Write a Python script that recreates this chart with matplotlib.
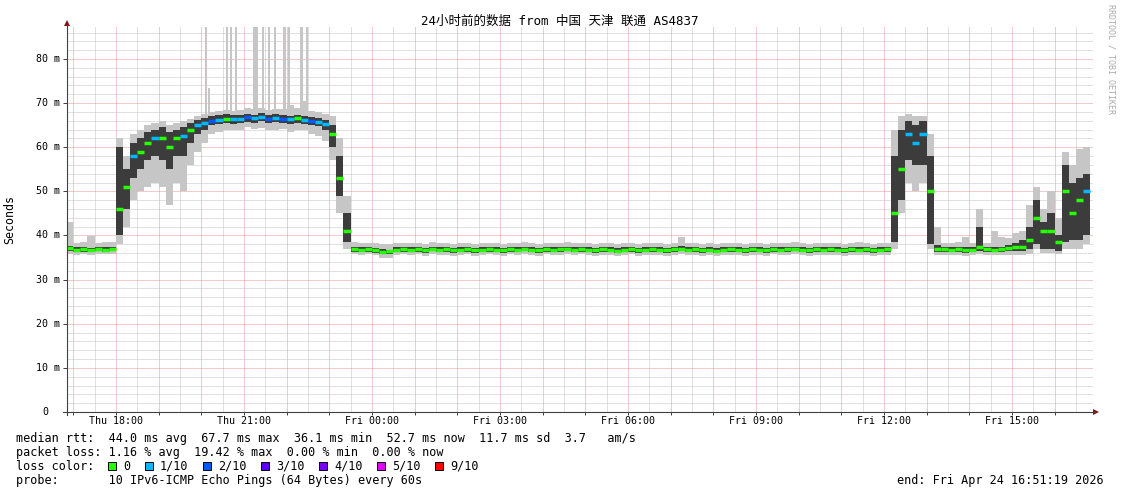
import matplotlib
matplotlib.use("Agg")
import matplotlib.pyplot as plt
import matplotlib.transforms as mtransforms
from matplotlib.lines import Line2D
from matplotlib.patches import Polygon, Rectangle
import numpy as np

W, H = 1121, 494

# ---- data: 10 minute steps, first step starts Thu 16:50 (hours since Thu 00:00)
t_first = 16 + 50 / 60.0
t_step = 1 / 6.0

median = [
    37.2, 36.8, 36.9, 36.7, 36.9, 36.8, 37.0, 46.0, 51.0, 58.0, 59.0, 61.0,
    62.0, 62.0, 60.0, 62.0, 62.5, 64.0, 65.0, 65.5, 66.0, 66.2, 66.5, 66.3,
    66.5, 66.8, 66.6, 66.9, 66.4, 66.7, 66.5, 66.3, 66.6, 66.2, 66.0, 65.8,
    65.3, 63.0, 53.0, 41.0, 37.0, 36.8, 36.9, 36.7, 36.3, 36.4, 36.8, 36.9,
    36.8, 36.9, 36.7, 37.0, 36.8, 36.9, 36.7, 36.8, 36.9, 36.7, 36.8, 36.9,
    36.8, 36.7, 36.9, 36.8, 37.0, 36.8, 36.7, 36.9, 36.8, 36.9, 37.0, 36.8,
    36.9, 36.8, 36.7, 36.9, 36.8, 36.6, 36.8, 36.9, 36.7, 36.8, 36.9, 36.8,
    36.7, 36.9, 37.0, 36.8, 36.9, 36.7, 36.8, 36.6, 36.8, 36.9, 36.8, 36.7,
    36.9, 36.8, 36.7, 36.9, 36.8, 36.9, 37.0, 36.8, 36.7, 36.9, 36.8, 36.9,
    36.8, 36.7, 36.9, 36.8, 36.9, 36.7, 36.8, 36.9, 45.0, 55.0, 63.0, 61.0,
    63.0, 50.0, 37.0, 36.9, 36.8, 36.9, 36.7, 36.8, 37.5, 36.9, 36.8, 36.9,
    37.2, 37.3, 37.5, 39.0, 44.0, 41.0, 41.0, 38.5, 50.0, 45.0, 48.0, 50.0,
]
smoke_min = [
    35.8, 35.6, 35.7, 35.6, 35.8, 35.7, 35.9, 38.0, 42.0, 48.0, 50.0, 51.0,
    52.0, 51.0, 47.0, 52.0, 50.0, 56.0, 59.0, 61.0, 63.0, 63.5, 64.0, 63.8,
    64.0, 64.5, 64.2, 64.3, 63.8, 64.0, 64.2, 63.5, 64.0, 63.8, 63.0, 62.5,
    61.5, 57.0, 45.0, 37.0, 35.8, 35.6, 35.7, 35.5, 34.8, 34.9, 35.6, 35.7,
    35.6, 35.7, 35.3, 35.8, 35.6, 35.5, 35.4, 35.6, 35.7, 35.4, 35.6, 35.7,
    35.5, 35.4, 35.7, 35.6, 35.8, 35.5, 35.4, 35.7, 35.5, 35.6, 35.8, 35.5,
    35.7, 35.5, 35.4, 35.6, 35.5, 35.3, 35.5, 35.7, 35.4, 35.5, 35.6, 35.5,
    35.4, 35.6, 35.7, 35.5, 35.6, 35.4, 35.5, 35.3, 35.5, 35.6, 35.5, 35.4,
    35.6, 35.5, 35.4, 35.7, 35.5, 35.6, 35.7, 35.5, 35.4, 35.6, 35.5, 35.6,
    35.5, 35.4, 35.6, 35.5, 35.6, 35.4, 35.5, 35.6, 37.0, 45.0, 52.0, 50.0,
    52.0, 37.0, 35.5, 35.6, 35.5, 35.6, 35.4, 35.5, 35.7, 35.6, 35.5, 35.6,
    35.6, 35.5, 35.6, 35.8, 37.0, 36.0, 36.0, 35.8, 37.0, 37.0, 37.0, 38.0,
]
smoke_max = [
    43.0, 38.3, 38.5, 39.8, 38.4, 38.6, 38.5, 62.0, 58.0, 63.0, 64.0, 65.0,
    65.5, 66.0, 65.0, 65.5, 66.0, 66.5, 67.0, 67.5, 68.0, 68.2, 68.5, 68.3,
    68.5, 68.8, 68.6, 69.0, 68.4, 68.7, 68.6, 69.5, 69.0, 70.5, 68.3, 68.0,
    67.5, 67.0, 62.0, 49.0, 38.5, 38.3, 38.4, 38.2, 38.0, 38.0, 38.3, 38.4,
    38.2, 38.4, 38.1, 38.6, 38.3, 38.2, 38.0, 38.3, 38.4, 38.1, 38.3, 38.2,
    38.3, 38.1, 38.4, 38.2, 38.5, 38.3, 38.1, 38.4, 38.2, 38.3, 38.5, 38.2,
    38.4, 38.2, 38.1, 38.3, 38.2, 38.0, 38.3, 38.4, 38.1, 38.2, 38.4, 38.2,
    38.1, 38.3, 39.6, 38.2, 38.4, 38.1, 38.2, 38.0, 38.3, 38.4, 38.2, 38.1,
    38.3, 38.2, 38.1, 38.4, 38.2, 38.3, 38.5, 38.2, 38.1, 38.4, 38.2, 38.3,
    38.2, 38.1, 38.3, 38.6, 38.3, 38.1, 38.2, 38.4, 64.0, 67.0, 67.5, 67.0,
    67.0, 63.0, 42.0, 38.4, 38.3, 38.5, 39.7, 38.3, 46.0, 38.4, 41.0, 39.7,
    39.4, 40.6, 41.0, 47.0, 51.0, 46.0, 50.0, 44.0, 59.0, 56.0, 59.5, 60.0,
]
# darker inner part of the smoke (middle pings)
inner_low = [
    36.4, 36.3, 36.3, 36.2, 36.4, 36.3, 36.5, 40.0, 46.0, 53.0, 55.0, 57.0,
    58.0, 57.0, 55.0, 58.0, 58.0, 61.0, 63.0, 64.0, 65.0, 65.3, 65.5, 65.3,
    65.5, 65.8, 65.6, 65.9, 65.4, 65.7, 65.5, 65.3, 65.6, 65.2, 65.0, 64.8,
    64.0, 60.0, 49.0, 38.5, 36.3, 36.2, 36.3, 36.1, 35.8, 35.7, 36.2, 36.3,
    36.2, 36.3, 36.1, 36.4, 36.2, 36.3, 36.1, 36.2, 36.3, 36.1, 36.2, 36.3,
    36.2, 36.1, 36.3, 36.2, 36.4, 36.2, 36.1, 36.3, 36.2, 36.3, 36.4, 36.2,
    36.3, 36.2, 36.1, 36.3, 36.2, 36.0, 36.2, 36.3, 36.1, 36.2, 36.3, 36.2,
    36.1, 36.3, 36.4, 36.2, 36.3, 36.1, 36.2, 36.0, 36.2, 36.3, 36.2, 36.1,
    36.3, 36.2, 36.1, 36.3, 36.2, 36.3, 36.4, 36.2, 36.1, 36.3, 36.2, 36.3,
    36.2, 36.1, 36.3, 36.2, 36.3, 36.1, 36.2, 36.3, 38.5, 48.0, 57.0, 56.0,
    56.0, 38.0, 36.3, 36.3, 36.2, 36.3, 36.1, 36.2, 36.5, 36.3, 36.2, 36.3,
    36.4, 36.5, 36.6, 37.0, 38.0, 37.0, 37.0, 36.6, 38.5, 39.0, 39.0, 40.0,
]
inner_high = [
    37.6, 37.3, 37.4, 37.2, 37.4, 37.3, 37.5, 60.0, 55.0, 61.0, 62.0, 63.5,
    64.0, 64.5, 63.5, 64.0, 64.5, 65.5, 66.2, 66.7, 67.0, 67.2, 67.5, 67.3,
    67.3, 67.6, 67.4, 67.7, 67.2, 67.5, 67.3, 67.1, 67.4, 67.0, 66.8, 66.6,
    66.2, 65.0, 58.0, 45.0, 37.5, 37.3, 37.4, 37.2, 36.9, 36.8, 37.3, 37.4,
    37.3, 37.4, 37.2, 37.5, 37.3, 37.4, 37.2, 37.3, 37.4, 37.2, 37.3, 37.4,
    37.3, 37.2, 37.4, 37.3, 37.5, 37.3, 37.2, 37.4, 37.3, 37.4, 37.5, 37.3,
    37.4, 37.3, 37.2, 37.4, 37.3, 37.1, 37.3, 37.4, 37.2, 37.3, 37.4, 37.3,
    37.2, 37.4, 37.6, 37.3, 37.4, 37.2, 37.3, 37.1, 37.3, 37.4, 37.3, 37.2,
    37.4, 37.3, 37.2, 37.4, 37.3, 37.4, 37.5, 37.3, 37.2, 37.4, 37.3, 37.4,
    37.3, 37.2, 37.4, 37.3, 37.4, 37.2, 37.3, 37.4, 58.0, 64.0, 66.0, 65.0,
    66.0, 58.0, 37.8, 37.4, 37.3, 37.4, 37.3, 37.3, 42.0, 37.4, 37.4, 37.5,
    37.8, 38.2, 39.0, 42.0, 48.0, 43.0, 45.0, 40.0, 56.0, 52.0, 53.0, 54.0,
]
# lost pings (of 10) per step
loss = [
    0, 0, 0, 0, 0, 0, 0, 0, 0, 1, 0, 0,
    1, 0, 0, 0, 1, 0, 1, 1, 2, 1, 0, 1,
    1, 2, 1, 1, 2, 1, 2, 1, 0, 1, 2, 1,
    1, 0, 0, 0, 0, 0, 0, 0, 0, 0, 0, 0,
    0, 0, 0, 0, 0, 0, 0, 0, 0, 0, 0, 0,
    0, 0, 0, 0, 0, 0, 0, 0, 0, 0, 0, 0,
    0, 0, 0, 0, 0, 0, 0, 0, 0, 0, 0, 0,
    0, 0, 0, 0, 0, 0, 0, 0, 0, 0, 0, 0,
    0, 0, 0, 0, 0, 0, 0, 0, 0, 0, 0, 0,
    0, 0, 0, 0, 0, 0, 0, 0, 0, 0, 1, 1,
    1, 0, 0, 0, 0, 0, 0, 0, 0, 0, 0, 0,
    0, 0, 0, 0, 0, 0, 0, 0, 0, 0, 0, 1,
]

# single slow pings during the plateau (hour, width in hours, top in ms)
spike_time = [20.113, 20.183, 20.605, 20.699, 20.816, 21.273, 21.448,
              21.589, 21.730, 21.952, 22.058, 22.362, 22.480]
spike_width = [0.03, 0.03, 0.03, 0.03, 0.03, 0.11, 0.03,
               0.03, 0.03, 0.07, 0.03, 0.07, 0.03]
spike_top = [87.5, 73.4, 87.5, 87.5, 87.5, 87.5, 87.5,
             87.5, 87.5, 87.5, 87.5, 87.5, 87.5]

loss_labels = ["0", "1/10", "2/10", "3/10", "4/10", "5/10", "9/10"]
loss_colors = ["#26ff00", "#00b8ff", "#0059ff", "#5e00ff", "#7e00ff", "#dd00ff", "#ff0000"]

x_ticks = [18, 21, 24, 27, 30, 33, 36, 39]
x_labels = ["Thu 18:00", "Thu 21:00", "Fri 00:00", "Fri 03:00",
            "Fri 06:00", "Fri 09:00", "Fri 12:00", "Fri 15:00"]
y_ticks = [0, 10, 20, 30, 40, 50, 60, 70, 80]
y_labels = ["0", "10 m", "20 m", "30 m", "40 m", "50 m", "60 m", "70 m", "80 m"]

MONO = "DejaVu Sans Mono"

fig = plt.figure(figsize=(W / 100, H / 100), dpi=100)
fig.patch.set_facecolor("white")
# pixel coordinates (origin top left) -> figure
px = mtransforms.Affine2D().scale(1.0 / W, -1.0 / H).translate(0, 1) + fig.transFigure

L, R, T, B = 67, 1093, 27, 412
ax = fig.add_axes([L / W, 1 - B / H, (R - L) / W, (B - T) / H])
for s in ax.spines.values():
    s.set_visible(False)

# grid (ticks first, limits after: set_xticks would widen the view)
ax.set_xticks(np.arange(17, 41, 1))
ax.set_xticks(np.arange(16.5, 41, 0.5), minor=True)
ax.set_yticks(np.arange(0, 90, 10))
ax.set_yticks(np.arange(0, 88, 2), minor=True)
x_end = 40 + 51 / 60 + 19 / 3600          # Fri 16:51:19
ax.set_xlim(x_end - 24, x_end - 24 + (R - L) / 42.67)
ax.set_ylim(0, (B - T) / 4.4125)
ax.grid(which="minor", color="#c4c4c4", lw=0.72, linestyle=(0, (1, 1)))
ax.grid(which="major", color="#e89494", lw=0.72, linestyle=(0, (1, 1)))
ax.set_axisbelow(True)
ax.tick_params(which="both", labelbottom=False, labelleft=False)
ax.tick_params(axis="x", which="major", length=2.5, width=0.7, color="#404040", direction="out")
ax.tick_params(axis="y", which="major", length=3, width=0.7, color="#404040", direction="out")
ax.tick_params(which="minor", length=0)

# smoke
n = len(median)
edges = t_first + np.arange(n + 1) * t_step
ax.stairs(smoke_max, edges, baseline=smoke_min, fill=True, color="#c6c6c6", lw=0, zorder=2)
ax.bar(spike_time, np.array(spike_top) - 67.5, bottom=67.5, width=spike_width,
       color="#c6c6c6", lw=0, zorder=2)
ax.stairs(inner_high, edges, baseline=inner_low, fill=True, color="#3c3c3c", lw=0, zorder=3)

# median coloured by loss
ax.hlines(median, edges[:-1], edges[1:], colors=[loss_colors[l] for l in loss],
          lw=2.5, zorder=4)

# axes lines and arrows
fig.add_artist(Line2D([L, L], [B + 3, 24], transform=px, color="#404040", lw=0.8))
fig.add_artist(Line2D([L - 4, 1095], [B, B], transform=px, color="#404040", lw=0.8))
fig.add_artist(Polygon([[L - 3, 26], [L + 3, 26], [L, 20]], closed=True,
                       transform=px, color="#8b1010", lw=0))
fig.add_artist(Polygon([[1093, B - 3], [1093, B + 3], [1099, B]], closed=True,
                       transform=px, color="#8b1010", lw=0))

# tick labels
xlab_tr = mtransforms.blended_transform_factory(ax.transData, px)
for t, lab in zip(x_ticks, x_labels):
    ax.text(t, 421, lab, transform=xlab_tr, ha="center", va="center",
            family=MONO, fontsize=7.2)
ylab_tr = mtransforms.blended_transform_factory(px, ax.transData)
for v, lab in zip(y_ticks, y_labels):
    ax.text(48 if lab == "0" else 60, v, lab, transform=ylab_tr, ha="right",
            va="center", family=MONO, fontsize=7.2, clip_on=False)

# titles
fig.text(559.5 / W, 1 - 21.5 / H, "24小时前的数据 from 中国 天津 联通 AS4837",
         ha="center", va="center", fontsize=9,
         family=[MONO, "Noto Sans CJK SC"])
fig.text(10 / W, 1 - 219 / H, "Seconds", rotation=90, ha="center", va="center",
         family=MONO, fontsize=8.4)
fig.text(1111 / W, 1 - 59 / H, "RRDTOOL / TOBI OETIKER", rotation=270,
         ha="center", va="center", family=MONO, fontsize=6.0, color="#aaaaaa")

# legend
leg_lines = [
    "median rtt:  44.0 ms avg  67.7 ms max  36.1 ms min  52.7 ms now  11.7 ms sd  3.7   am/s",
    "packet loss: 1.16 % avg  19.42 % max  0.00 % min  0.00 % now",
    "loss color:",
    "probe:       10 IPv6-ICMP Echo Pings (64 Bytes) every 60s",
]
for i, line in enumerate(leg_lines):
    fig.text(16 / W, 1 - (438 + 14 * i) / H, line, ha="left", va="center",
             family=MONO, fontsize=8.5)
box_x = [108, 145, 203, 261, 319, 377, 435]
for bx, col, lab in zip(box_x, loss_colors, loss_labels):
    fig.add_artist(Rectangle((bx, 470), 8, -8, transform=px, facecolor=col,
                             edgecolor="black", lw=0.7))
    fig.text((bx + 15) / W, 1 - 466 / H, lab, ha="left", va="center",
             family=MONO, fontsize=8.5)
fig.text(1104 / W, 1 - 480 / H, "end: Fri Apr 24 16:51:19 2026", ha="right",
         va="center", family=MONO, fontsize=8.5)

fig.savefig("out.png", dpi=100)
